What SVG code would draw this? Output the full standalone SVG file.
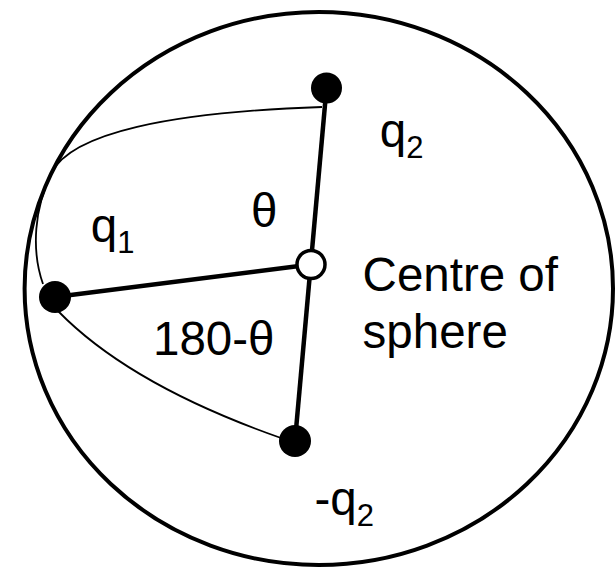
<svg xmlns="http://www.w3.org/2000/svg" width="616" height="568" viewBox="0 0 616 568">
<style>
.lbl{font-family:"Liberation Sans",Arial,sans-serif;font-size:47.5px;fill:#000}
.sub{font-size:31px}
.thick{stroke:#000;stroke-width:4.5;fill:none}
.thin{stroke:#000;stroke-width:1.8;fill:none}
.dot{fill:#000}
</style>
<rect width="616" height="568" fill="#fff"/>
<g id="sphere">
<ellipse cx="318.8" cy="288.5" rx="294.2" ry="276.5" fill="none" stroke="#000" stroke-width="4"/>
</g>
<g id="connectors">
<path class="thin" d="M322,107 C170,112 71,133 51.5,173 C34.4,208 31,250 43,284"/>
<path class="thin" d="M58,311 Q130,385 281,438"/>
<line class="thick" x1="326.5" y1="88" x2="295" y2="441"/>
<line class="thick" x1="55" y1="297" x2="311" y2="264.5"/>
</g>
<g id="q2-node">
<circle class="dot" cx="326.5" cy="88" r="15.5"/>
<text class="lbl" x="379.8" y="147">q<tspan class="sub" y="158">2</tspan></text>
</g>
<g id="centre-node">
<circle cx="311" cy="264.5" r="14" fill="#fff" stroke="#000" stroke-width="3.5"/>
<text class="lbl" x="362.6" y="291">Centre of</text>
<text class="lbl" x="362.6" y="348">sphere</text>
</g>
<g id="q1-node">
<circle class="dot" cx="55" cy="297" r="16"/>
<text class="lbl" x="90.8" y="242">q<tspan class="sub" y="253">1</tspan></text>
</g>
<g id="minus-q2-node">
<circle class="dot" cx="295" cy="441" r="16"/>
<text class="lbl" x="314.5" y="515">-q<tspan class="sub" y="526">2</tspan></text>
</g>
<g id="angles">
<text class="lbl" x="251" y="227">θ</text>
<text class="lbl" x="153" y="355">180-θ</text>
</g>
</svg>
